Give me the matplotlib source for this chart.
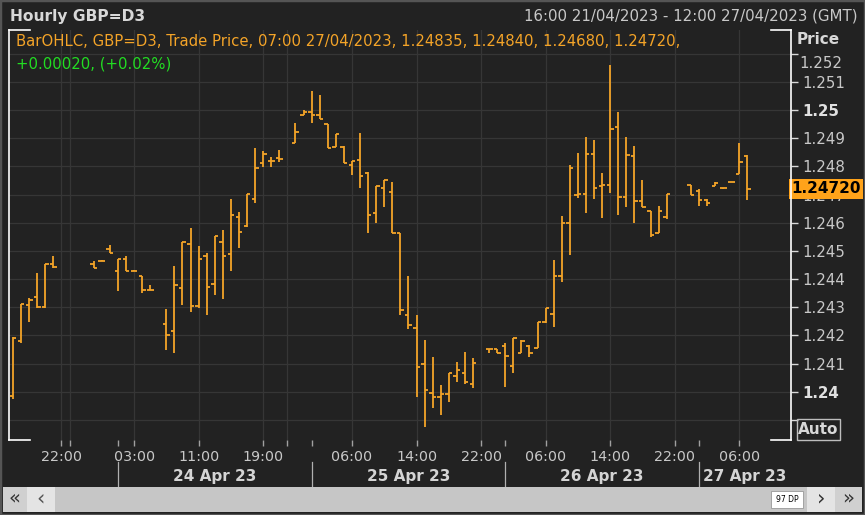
import numpy as np
import matplotlib
matplotlib.use('Agg')
import matplotlib.pyplot as plt
from matplotlib.patches import Rectangle
from matplotlib.transforms import blended_transform_factory

nan = np.nan
# ---------------- data (hourly OHLC, GBP=D3) ----------------
opens = [1.23985, 1.24180, 1.24307, 1.24337, 1.24300, 1.24453, nan, nan, nan, nan,
         1.24453, 1.24465, 1.24505, 1.24430, 1.24470, 1.24430, 1.24411, 1.24361, nan, 1.24239,
         1.24215, 1.24367, 1.24523, 1.24305, 1.24482, 1.24382, 1.24530, 1.24489, 1.24619, 1.24588,
         1.24684, 1.24811, 1.24820, 1.24829, nan, 1.24882, 1.24982, 1.24992, 1.24982, 1.24950,
         1.24870, 1.24870, 1.24805, 1.24822, 1.24777, 1.24633, 1.24722, 1.24708, 1.24562, 1.24272,
         1.24225, 1.24097, 1.23994, 1.23980, 1.23992, 1.24056, 1.24067, 1.24027, nan, 1.24151,
         1.24151, 1.24163, 1.24091, 1.24138, 1.24162, 1.24154, 1.24248, 1.24275, 1.24411, 1.24598,
         1.24698, 1.24702, 1.24844, 1.24730, 1.24734, 1.24941, 1.24692, 1.24837, 1.24677, 1.24643,
         1.24564, 1.24619, nan, nan, 1.24734, 1.24714, 1.24681, 1.24730, 1.24722, 1.24744,
         1.24773, 1.24835, nan, nan, nan, nan, nan]
highs = [1.24195, 1.24310, 1.24332, 1.24420, 1.24453, 1.24482, nan, nan, nan, nan,
         1.24464, 1.24466, 1.24521, 1.24470, 1.24482, 1.24431, 1.24411, 1.24379, nan, 1.24293,
         1.24446, 1.24530, 1.24580, 1.24518, 1.24491, 1.24554, 1.24574, 1.24684, 1.24639, 1.24702,
         1.24864, 1.24854, 1.24832, 1.24858, nan, 1.24955, 1.25000, 1.25067, 1.25053, 1.24950,
         1.24915, 1.24872, 1.24819, 1.24917, 1.24781, 1.24730, 1.24752, 1.24745, 1.24562, 1.24411,
         1.24272, 1.24184, 1.24124, 1.24024, 1.24065, 1.24106, 1.24142, 1.24119, nan, 1.24151,
         1.24151, 1.24174, 1.24192, 1.24184, 1.24166, 1.24248, 1.24296, 1.24468, 1.24624, 1.24804,
         1.24846, 1.24903, 1.24893, 1.24777, 1.25160, 1.24994, 1.24903, 1.24872, 1.24752, 1.24643,
         1.24659, 1.24702, nan, nan, 1.24734, 1.24718, 1.24683, 1.24745, 1.24723, 1.24745,
         1.24884, 1.24840, nan, nan, nan, nan, nan]
lows = [1.23975, 1.24172, 1.24248, 1.24296, 1.24296, 1.24438, nan, nan, nan, nan,
        1.24438, 1.24464, 1.24491, 1.24359, 1.24430, 1.24429, 1.24351, 1.24361, nan, 1.24148,
        1.24136, 1.24308, 1.24284, 1.24296, 1.24272, 1.24343, 1.24328, 1.24428, 1.24511, 1.24586,
        1.24669, 1.24797, 1.24797, 1.24816, nan, 1.24882, 1.24982, 1.24953, 1.24967, 1.24864,
        1.24870, 1.24811, 1.24769, 1.24722, 1.24564, 1.24600, 1.24657, 1.24562, 1.24272, 1.24222,
        1.23980, 1.23876, 1.23941, 1.23917, 1.23964, 1.24035, 1.24027, 1.24012, nan, 1.24138,
        1.24138, 1.24018, 1.24065, 1.24138, 1.24122, 1.24154, 1.24243, 1.24231, 1.24390, 1.24485,
        1.24687, 1.24633, 1.24683, 1.24616, 1.24704, 1.24627, 1.24657, 1.24598, 1.24655, 1.24550,
        1.24562, 1.24612, nan, nan, 1.24698, 1.24659, 1.24659, 1.24730, 1.24721, 1.24743,
        1.24773, 1.24680, nan, nan, nan, nan, nan]
closes = [1.24190, 1.24310, 1.24326, 1.24300, 1.24453, 1.24444, nan, nan, nan, nan,
          1.24438, 1.24465, 1.24491, 1.24470, 1.24430, 1.24430, 1.24361, 1.24361, nan, 1.24201,
          1.24379, 1.24530, 1.24305, 1.24470, 1.24371, 1.24554, 1.24482, 1.24627, 1.24566, 1.24702,
          1.24793, 1.24844, 1.24819, 1.24826, nan, 1.24921, 1.24992, 1.24982, 1.24967, 1.24864,
          1.24915, 1.24811, 1.24819, 1.24767, 1.24627, 1.24730, 1.24752, 1.24562, 1.24290, 1.24237,
          1.24089, 1.24006, 1.23980, 1.23992, 1.24065, 1.24077, 1.24035, 1.24101, nan, 1.24151,
          1.24138, 1.24127, 1.24192, 1.24180, 1.24138, 1.24248, 1.24296, 1.24411, 1.24598, 1.24793,
          1.24702, 1.24844, 1.24722, 1.24734, 1.24931, 1.24692, 1.24842, 1.24677, 1.24655, 1.24556,
          1.24643, 1.24702, nan, nan, 1.24698, 1.24681, 1.24671, 1.24742, 1.24722, 1.24744,
          1.24816, 1.24720, nan, nan, nan, nan, nan]

x_tick_pos = [6, 15, 23, 31, 42, 50, 58, 66, 74, 82, 90]
x_tick_labels = ['22:00', '03:00', '11:00', '19:00', '06:00', '14:00', '22:00',
                 '06:00', '14:00', '22:00', '06:00']
extra_grid_pos = [7, 34]
day_sep_pos = [13, 37, 61, 85]
day_labels = ['24 Apr 23', '25 Apr 23', '26 Apr 23', '27 Apr 23']
day_label_pos = [25, 49, 73, 90.7]
price_ticks = [1.239, 1.240, 1.241, 1.242, 1.243, 1.244, 1.245, 1.246,
               1.247, 1.248, 1.249, 1.250, 1.251, 1.252]
price_labels = ['', '1.24', '1.241', '1.242', '1.243', '1.244', '1.245', '1.246',
                '1.247', '1.248', '1.249', '1.25', '1.251', '']
bold_labels = ['1.24', '1.25']
last_price = 1.24720

title = 'Hourly GBP=D3'
range_text = '16:00 21/04/2023 - 12:00 27/04/2023 (GMT)'
legend_line1 = 'BarOHLC, GBP=D3, Trade Price, 07:00 27/04/2023, 1.24835, 1.24840, 1.24680, 1.24720,'
legend_line2 = '+0.00020, (+0.02%)'

# ---------------- style ----------------
W, H = 865, 515
BG = '#222222'
GRID = '#363636'
TXT = '#c8c8c8'
BAR = '#f4a428'

def fx(px):
    return px / W

def fy(py):
    return 1 - py / H

fig = plt.figure(figsize=(W / 100, H / 100), dpi=100, facecolor=BG)
ax = fig.add_axes([fx(9), fy(440), fx(782), 410 / H])
ax.set_facecolor(BG)
ax.set_xlim(-0.5, 96.41)
ax.set_ylim(1.238285, 1.25284)
for s in ax.spines.values():
    s.set_visible(False)

# grid
for p in price_ticks:
    ax.axhline(p, color=GRID, lw=0.9, zorder=0)
for p in x_tick_pos + extra_grid_pos:
    ax.axvline(p, color=GRID, lw=0.9, zorder=0)

# OHLC bars
idx = np.arange(len(opens))
o = np.array(opens); h = np.array(highs); l = np.array(lows); c = np.array(closes)
ok = ~np.isnan(o)
tw = 0.42
ax.vlines(idx[ok], l[ok], h[ok], color=BAR, lw=1.3, zorder=3)
ax.hlines(o[ok], idx[ok] - tw, idx[ok], color=BAR, lw=1.3, zorder=3)
ax.hlines(c[ok], idx[ok], idx[ok] + tw, color=BAR, lw=1.3, zorder=3)

# y axis on the right
ax.yaxis.tick_right()
ax.set_yticks(price_ticks)
ax.set_yticklabels(price_labels)
ax.tick_params(axis='y', direction='out', length=5, width=1, color='#d8d8d8',
               labelcolor=TXT, labelsize=10.8, pad=3)
for t in ax.get_yticklabels():
    t.set_zorder(1)
    if t.get_text() in bold_labels:
        t.set_fontweight('bold')
        t.set_color('#e0e0e0')

# x axis
ax.set_xticks(x_tick_pos)
ax.set_xticklabels(x_tick_labels)
ax.set_xticks(extra_grid_pos + day_sep_pos, minor=True)
ax.tick_params(axis='x', which='both', direction='out', length=4, width=1,
               color='#a0a0a0', labelcolor=TXT, labelsize=10.3, pad=3)

# frame (white side lines + corner brackets)
lw_frame = 1.2
fig.add_artist(plt.Line2D([fx(9), fx(9)], [fy(30), fy(440)], color='white', lw=lw_frame))
fig.add_artist(plt.Line2D([fx(791), fx(791)], [fy(30), fy(440)], color='white', lw=lw_frame))
for (x0, x1) in [(9, 30), (771, 791)]:
    for yy in (30, 440):
        fig.add_artist(plt.Line2D([fx(x0), fx(x1)], [fy(yy), fy(yy)], color='white', lw=lw_frame))

# day separators and labels
bt = blended_transform_factory(ax.transData, fig.transFigure)
for p in day_sep_pos:
    ax.plot([p, p], [fy(462), fy(488)], color='#b0b0b0', lw=0.9, transform=bt, clip_on=False)
for p, lab in zip(day_label_pos, day_labels):
    ax.text(p, fy(476), lab, transform=bt, ha='center', va='center', fontsize=11,
            fontweight='bold', color='#d4d4d4')

# header texts
fig.text(fx(10), fy(16), title, ha='left', va='center', fontsize=11.2, fontweight='bold', color='#d8d8d8')
fig.text(fx(858), fy(16), range_text, ha='right', va='center', fontsize=10.8, color=TXT)
fig.text(fx(16), fy(42), legend_line1, ha='left', va='center', fontsize=10.75, color='#f4a428')
fig.text(fx(16), fy(64), legend_line2, ha='left', va='center', fontsize=10.75, color='#22dd22')

# right axis extras
fig.text(fx(797), fy(40), 'Price', ha='left', va='center', fontsize=11, fontweight='bold', color='#d8d8d8')
fig.text(fx(799), fy(63), '1.252', ha='left', va='center', fontsize=10.8, color=TXT)
byt = blended_transform_factory(fig.transFigure, ax.transData)
ax.text(fx(791), last_price, f'{last_price:.5f}', transform=byt, ha='left', va='center',
        fontsize=11, fontweight='bold', color='black', zorder=10, clip_on=False,
        bbox=dict(facecolor='#ffa31a', edgecolor='none', pad=1.5))
fig.add_artist(Rectangle((fx(797), fy(440)), fx(43), 21 / H, facecolor='none',
                         edgecolor='#bdbdbd', lw=1))
fig.text(fx(818.5), fy(430), 'Auto', ha='center', va='center', fontsize=11, fontweight='bold', color='#d8d8d8')

# scrollbar
def rect(x0, y0, x1, y1, fc, ec='none', lw=0):
    fig.add_artist(Rectangle((fx(x0), fy(y1)), fx(x1 - x0), (y1 - y0) / H,
                             facecolor=fc, edgecolor=ec, lw=lw))

rect(3, 487, 862, 512, '#c6c6c6')
rect(3, 487, 27, 512, '#d0d0d0')
rect(27, 487, 55, 512, '#e4e4e4')
rect(807, 487, 835, 512, '#e4e4e4')
rect(835, 487, 862, 512, '#d0d0d0')
rect(771, 491, 803, 508, 'white', '#999999', 0.6)
fig.text(fx(15), fy(498), '\u00ab', ha='center', va='center', fontsize=14, color='#333333')
fig.text(fx(41), fy(498), '\u2039', ha='center', va='center', fontsize=15, color='#555555')
fig.text(fx(821), fy(498), '\u203a', ha='center', va='center', fontsize=15, color='#333333')
fig.text(fx(848), fy(498), '\u00bb', ha='center', va='center', fontsize=14, color='#333333')
fig.text(fx(787), fy(499.5), '97 DP', ha='center', va='center', fontsize=5.5, color='black')

# outer border
fig.add_artist(Rectangle((0, 0), 1, 1, facecolor='none', edgecolor='#555555', lw=2.5))

fig.savefig('out.png', dpi=100, facecolor=BG)
